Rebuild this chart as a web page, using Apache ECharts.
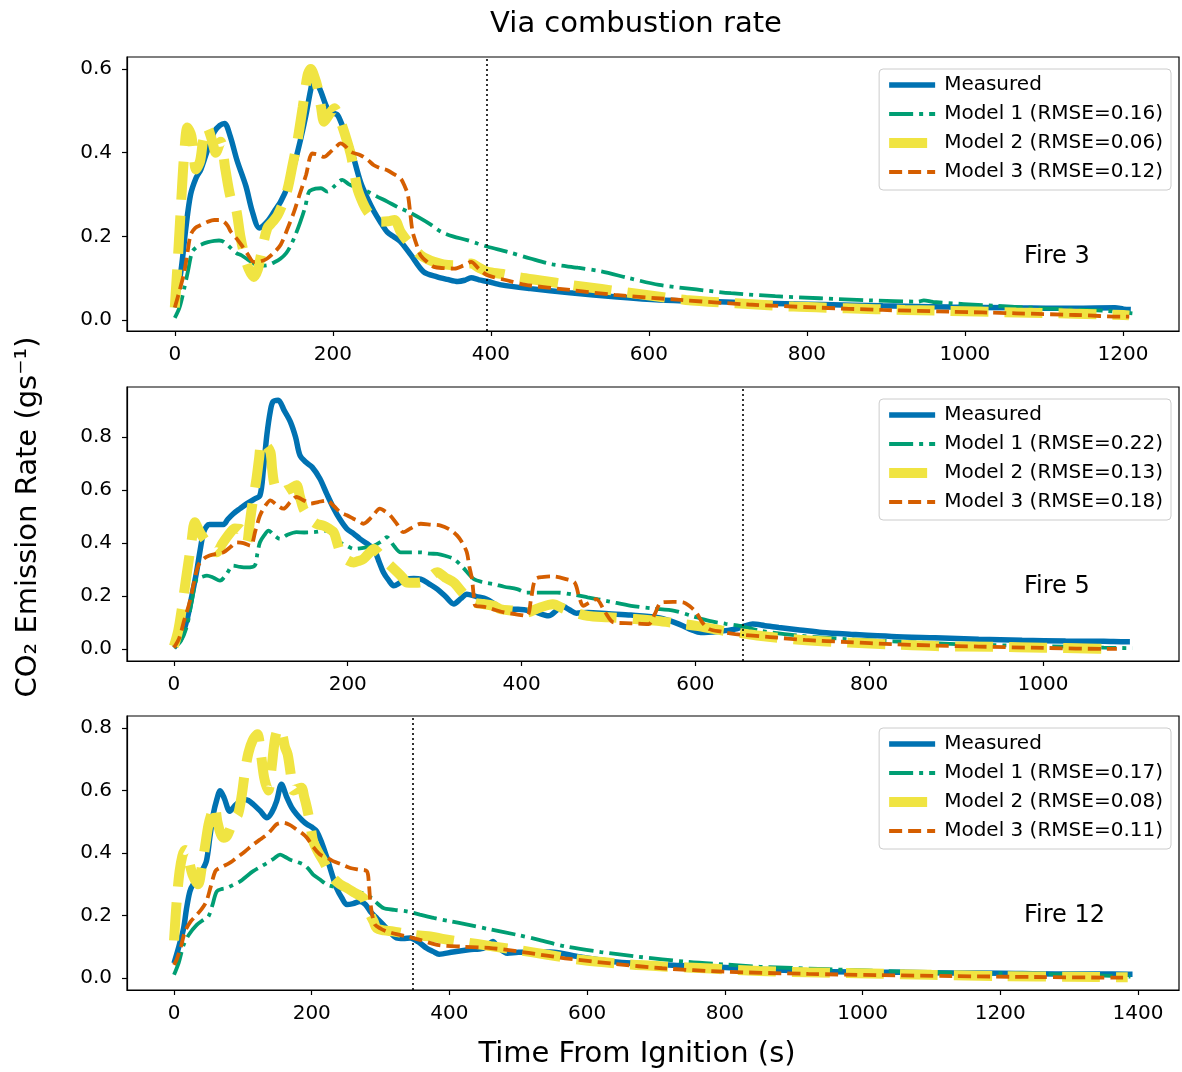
<!DOCTYPE html>
<html>
<head>
<meta charset="utf-8">
<title>Via combustion rate</title>
<script src="https://cdn.jsdelivr.net/npm/echarts@6/dist/echarts.min.js"></script>
<style>
  html, body { margin: 0; padding: 0; background: #fff; }
  #chart { width: 1182px; height: 1072px; }
</style>
</head>
<body>
<div id="chart"></div>
<script>
// ---- data: [time from ignition (s), CO2 emission rate (g/s)] ----
const fire3Measured = [[0,0.03],[8,0.12],[14,0.22],[20,0.30],[27,0.34],[33,0.36],[42,0.41],[50,0.45],[57,0.465],[63,0.47],[70,0.44],[79,0.38],[90,0.32],[98,0.26],[107,0.22],[117,0.235],[126,0.26],[134,0.283],[143,0.32],[151,0.37],[159,0.43],[166,0.49],[172,0.55],[176,0.578],[184,0.55],[193,0.506],[200,0.495],[206,0.49],[215,0.45],[223,0.41],[235,0.33],[244,0.29],[252,0.26],[260,0.235],[269,0.21],[278,0.198],[286,0.187],[299,0.155],[315,0.115],[332,0.103],[345,0.097],[358,0.092],[367,0.095],[375,0.101],[385,0.096],[396,0.092],[413,0.084],[450,0.075],[500,0.065],[560,0.055],[613,0.048],[680,0.044],[749,0.040],[820,0.037],[896,0.034],[980,0.031],[1065,0.029],[1140,0.028],[1190,0.029],[1201,0.026],[1210,0.025]];
const fire3Model1 = [[0,0.005],[6,0.03],[12,0.076],[17,0.12],[22,0.163],[28,0.175],[33,0.18],[42,0.186],[50,0.189],[56,0.19],[62,0.187],[71,0.172],[78,0.16],[84,0.155],[92,0.145],[100,0.135],[108,0.13],[117,0.131],[126,0.138],[134,0.147],[141,0.16],[147,0.179],[153,0.205],[159,0.235],[165,0.27],[170,0.307],[178,0.314],[185,0.315],[193,0.307],[202,0.32],[212,0.335],[220,0.325],[227,0.319],[244,0.307],[256,0.295],[269,0.283],[282,0.27],[295,0.259],[311,0.243],[324,0.228],[337,0.211],[352,0.2],[370,0.191],[383,0.183],[396,0.175],[421,0.163],[450,0.147],[478,0.133],[510,0.125],[540,0.116],[575,0.1],[613,0.084],[660,0.073],[704,0.064],[760,0.057],[816,0.052],[880,0.047],[941,0.044],[948,0.047],[960,0.043],[1037,0.034],[1100,0.028],[1178,0.022],[1212,0.016]];
const fire3Model2 = [[0,0.03],[4,0.15],[8,0.28],[12,0.40],[16,0.46],[21,0.44],[27,0.36],[32,0.38],[36,0.43],[41,0.46],[47,0.43],[52,0.40],[58,0.426],[64,0.36],[71,0.29],[77,0.27],[83,0.2],[88,0.155],[94,0.12],[100,0.103],[105,0.12],[109,0.155],[117,0.219],[124,0.235],[130,0.25],[137,0.28],[143,0.315],[149,0.37],[155,0.426],[162,0.51],[168,0.585],[172,0.60],[177,0.58],[181,0.554],[185,0.51],[189,0.474],[195,0.49],[202,0.506],[206,0.495],[210,0.474],[216,0.44],[223,0.394],[231,0.315],[238,0.28],[244,0.259],[252,0.243],[261,0.235],[270,0.236],[278,0.239],[286,0.21],[295,0.187],[303,0.17],[311,0.155],[320,0.145],[328,0.139],[340,0.133],[354,0.131],[365,0.133],[375,0.135],[385,0.125],[396,0.115],[415,0.11],[433,0.103],[465,0.094],[500,0.084],[540,0.074],[580,0.064],[647,0.048],[710,0.04],[783,0.032],[850,0.028],[924,0.024],[1000,0.021],[1065,0.018],[1140,0.015],[1201,0.012],[1208,0.011]];
const fire3Model3 = [[0,0.03],[6,0.07],[12,0.115],[16,0.16],[20,0.203],[26,0.22],[33,0.227],[42,0.235],[50,0.239],[56,0.239],[62,0.235],[67,0.225],[71,0.211],[78,0.195],[84,0.18],[92,0.158],[100,0.139],[108,0.14],[117,0.147],[126,0.162],[134,0.18],[142,0.215],[151,0.259],[158,0.3],[166,0.346],[174,0.398],[182,0.395],[189,0.39],[196,0.4],[202,0.41],[210,0.422],[216,0.415],[223,0.402],[235,0.394],[244,0.383],[252,0.37],[260,0.363],[269,0.358],[278,0.348],[286,0.338],[291,0.32],[295,0.299],[298,0.255],[301,0.211],[306,0.18],[311,0.155],[320,0.138],[328,0.127],[340,0.124],[354,0.123],[365,0.13],[375,0.139],[385,0.122],[396,0.107],[420,0.095],[444,0.084],[500,0.072],[557,0.06],[640,0.048],[726,0.037],[810,0.03],[896,0.024],[980,0.02],[1065,0.016],[1140,0.012],[1201,0.008],[1208,0.008]];

const fire5Measured = [[0,0.005],[8,0.04],[15,0.11],[20,0.19],[26,0.29],[30,0.37],[34,0.44],[38,0.465],[41,0.47],[50,0.47],[57,0.47],[62,0.49],[68,0.51],[76,0.53],[84,0.549],[92,0.565],[99,0.58],[103,0.68],[107,0.81],[111,0.9],[114,0.934],[120,0.94],[127,0.9],[134,0.858],[140,0.8],[145,0.732],[152,0.705],[159,0.687],[168,0.643],[176,0.585],[184,0.53],[191,0.49],[199,0.454],[207,0.435],[214,0.416],[222,0.398],[230,0.378],[236,0.33],[241,0.29],[247,0.26],[253,0.239],[260,0.25],[268,0.264],[276,0.266],[284,0.264],[294,0.245],[303,0.226],[312,0.2],[322,0.17],[330,0.19],[337,0.207],[348,0.198],[360,0.188],[370,0.168],[380,0.15],[396,0.15],[415,0.14],[431,0.125],[440,0.145],[446,0.163],[455,0.148],[463,0.135],[476,0.138],[500,0.133],[526,0.128],[556,0.119],[572,0.105],[586,0.087],[596,0.072],[606,0.062],[626,0.066],[646,0.075],[656,0.086],[666,0.094],[680,0.088],[696,0.081],[720,0.072],[746,0.062],[780,0.055],[826,0.047],[876,0.042],[926,0.037],[976,0.033],[1026,0.030],[1070,0.029],[1096,0.027],[1100,0.027]];
const fire5Model1 = [[0,0.005],[8,0.03],[15,0.087],[20,0.17],[26,0.264],[32,0.272],[38,0.277],[45,0.27],[53,0.258],[60,0.28],[68,0.315],[76,0.31],[84,0.308],[93,0.315],[96,0.36],[99,0.403],[104,0.43],[109,0.447],[115,0.43],[122,0.416],[130,0.43],[141,0.441],[150,0.44],[161,0.441],[170,0.445],[176,0.447],[184,0.425],[191,0.403],[199,0.39],[207,0.378],[218,0.382],[230,0.39],[238,0.405],[245,0.422],[253,0.39],[261,0.365],[272,0.365],[284,0.365],[295,0.36],[303,0.359],[312,0.352],[322,0.34],[332,0.31],[345,0.264],[356,0.252],[368,0.245],[380,0.235],[395,0.226],[406,0.213],[420,0.213],[441,0.213],[460,0.205],[476,0.195],[500,0.18],[526,0.163],[550,0.153],[576,0.144],[596,0.125],[616,0.106],[635,0.095],[651,0.087],[676,0.068],[720,0.05],[776,0.037],[840,0.027],[900,0.018],[960,0.013],[1026,0.009],[1070,0.005],[1103,0.003]];
const fire5Model2 = [[0,0.01],[5,0.07],[9,0.15],[12,0.22],[15,0.29],[20,0.4],[24,0.479],[27,0.46],[30,0.44],[34,0.42],[38,0.403],[44,0.38],[49,0.365],[56,0.4],[65,0.44],[70,0.455],[76,0.454],[80,0.43],[84,0.403],[87,0.47],[90,0.542],[95,0.643],[98,0.72],[101,0.782],[106,0.77],[111,0.744],[113,0.68],[116,0.618],[121,0.6],[126,0.593],[130,0.6],[134,0.605],[141,0.618],[145,0.575],[149,0.53],[155,0.5],[161,0.479],[166,0.47],[172,0.466],[178,0.455],[184,0.44],[188,0.4],[193,0.353],[200,0.335],[207,0.327],[212,0.332],[218,0.34],[224,0.36],[230,0.378],[236,0.36],[241,0.34],[249,0.315],[257,0.29],[263,0.27],[268,0.251],[276,0.25],[284,0.251],[294,0.27],[303,0.29],[312,0.27],[322,0.251],[333,0.21],[345,0.176],[356,0.17],[368,0.163],[376,0.15],[390,0.145],[406,0.138],[420,0.155],[436,0.169],[450,0.15],[476,0.125],[500,0.12],[530,0.113],[556,0.106],[580,0.096],[601,0.087],[630,0.07],[660,0.056],[676,0.049],[720,0.035],[776,0.024],[826,0.017],[876,0.011],[940,0.008],[1001,0.005],[1050,0.002],[1076,0.0],[1082,0.0]];
const fire5Model3 = [[0,0.005],[6,0.04],[12,0.11],[18,0.176],[23,0.25],[28,0.315],[34,0.34],[41,0.353],[50,0.36],[57,0.365],[65,0.385],[72,0.403],[80,0.4],[88,0.39],[94,0.45],[99,0.504],[105,0.54],[111,0.561],[118,0.545],[126,0.53],[134,0.555],[141,0.574],[150,0.56],[157,0.549],[166,0.555],[176,0.561],[184,0.54],[191,0.517],[199,0.505],[207,0.491],[213,0.482],[218,0.473],[228,0.5],[237,0.53],[243,0.52],[249,0.504],[257,0.47],[264,0.441],[272,0.455],[284,0.473],[295,0.47],[307,0.466],[318,0.45],[326,0.428],[332,0.4],[337,0.365],[340,0.31],[343,0.264],[345,0.2],[347,0.163],[355,0.16],[360,0.157],[370,0.147],[380,0.138],[390,0.133],[406,0.125],[411,0.19],[416,0.264],[426,0.272],[436,0.274],[450,0.265],[461,0.251],[466,0.2],[471,0.163],[478,0.175],[486,0.188],[496,0.14],[506,0.1],[526,0.097],[546,0.094],[553,0.13],[561,0.176],[575,0.178],[586,0.176],[594,0.16],[601,0.138],[608,0.1],[616,0.075],[630,0.065],[646,0.056],[686,0.045],[726,0.034],[776,0.026],[826,0.018],[876,0.013],[926,0.009],[1000,0.004],[1076,0.0],[1085,0.0]];

const fire12Measured = [[0,0.047],[7,0.1],[14,0.16],[18,0.22],[23,0.277],[28,0.3],[33,0.309],[40,0.34],[47,0.374],[52,0.45],[57,0.524],[62,0.57],[67,0.599],[73,0.575],[81,0.534],[90,0.555],[101,0.572],[108,0.568],[115,0.556],[125,0.535],[135,0.513],[142,0.53],[149,0.566],[156,0.62],[164,0.577],[171,0.545],[178,0.524],[186,0.505],[193,0.492],[200,0.483],[207,0.47],[215,0.43],[222,0.385],[229,0.335],[236,0.288],[244,0.255],[251,0.235],[260,0.238],[270,0.245],[278,0.235],[285,0.213],[295,0.19],[304,0.17],[313,0.148],[323,0.128],[333,0.126],[343,0.128],[355,0.115],[367,0.095],[376,0.085],[385,0.076],[405,0.083],[428,0.09],[449,0.095],[456,0.105],[463,0.117],[470,0.1],[484,0.079],[500,0.082],[547,0.083],[590,0.067],[639,0.052],[700,0.043],[780,0.036],[850,0.028],[921,0.022],[990,0.019],[1061,0.018],[1130,0.016],[1202,0.015],[1280,0.013],[1340,0.013],[1385,0.012],[1392,0.012]];
const fire12Model1 = [[0,0.01],[7,0.05],[14,0.106],[22,0.14],[33,0.17],[42,0.185],[50,0.197],[56,0.235],[62,0.277],[70,0.285],[77,0.288],[86,0.298],[96,0.309],[105,0.325],[115,0.342],[125,0.355],[135,0.368],[145,0.382],[154,0.395],[161,0.388],[168,0.379],[178,0.372],[188,0.363],[195,0.35],[202,0.331],[212,0.315],[222,0.299],[236,0.29],[251,0.283],[265,0.276],[280,0.267],[292,0.245],[304,0.224],[320,0.218],[338,0.213],[357,0.203],[377,0.192],[400,0.182],[428,0.17],[460,0.155],[498,0.138],[530,0.122],[568,0.101],[620,0.083],[674,0.068],[744,0.052],[800,0.043],[850,0.036],[950,0.028],[1061,0.02],[1160,0.016],[1272,0.012],[1340,0.008],[1389,0.004]];
const fire12Model2 = [[0,0.12],[4,0.25],[8,0.34],[12,0.39],[16,0.41],[21,0.38],[27,0.33],[35,0.30],[40,0.35],[45,0.42],[50,0.49],[55,0.53],[59,0.55],[63,0.5],[68,0.46],[72,0.449],[77,0.455],[82,0.48],[88,0.51],[93,0.524],[98,0.58],[103,0.66],[108,0.72],[114,0.76],[121,0.78],[126,0.72],[131,0.64],[137,0.6],[142,0.68],[147,0.77],[152,0.8],[157,0.78],[161,0.74],[165,0.716],[169,0.66],[173,0.6],[179,0.605],[185,0.609],[189,0.58],[193,0.545],[198,0.49],[202,0.438],[210,0.4],[217,0.374],[224,0.345],[231,0.32],[241,0.3],[251,0.288],[263,0.272],[275,0.256],[280,0.23],[285,0.202],[290,0.18],[294,0.16],[305,0.152],[318,0.149],[333,0.143],[348,0.138],[360,0.135],[372,0.133],[390,0.125],[420,0.115],[460,0.102],[498,0.09],[540,0.075],[590,0.058],[650,0.045],[710,0.037],[780,0.03],[850,0.022],[920,0.018],[992,0.015],[1100,0.01],[1202,0.006],[1300,0.004],[1380,0.002],[1385,0.002]];
const fire12Model3 = [[0,0.042],[4,0.06],[10,0.1],[16,0.149],[24,0.18],[33,0.202],[40,0.22],[47,0.245],[53,0.29],[60,0.342],[66,0.352],[72,0.358],[82,0.37],[91,0.385],[103,0.405],[115,0.427],[125,0.443],[135,0.459],[142,0.475],[149,0.492],[159,0.497],[168,0.49],[178,0.475],[186,0.463],[193,0.449],[202,0.42],[212,0.395],[222,0.385],[231,0.374],[244,0.363],[256,0.352],[268,0.347],[280,0.342],[283,0.3],[285,0.245],[288,0.2],[292,0.17],[300,0.158],[309,0.149],[323,0.14],[338,0.133],[357,0.122],[382,0.106],[420,0.1],[463,0.095],[515,0.08],[568,0.063],[640,0.045],[709,0.031],[800,0.02],[921,0.013],[1020,0.009],[1131,0.006],[1250,0.003],[1378,0.001],[1385,0.001]];

const fireNames = ["Fire 3", "Fire 5", "Fire 12"];
const rmseFire3 = [0.16, 0.06, 0.12];
const rmseFire5 = [0.22, 0.13, 0.18];
const rmseFire12 = [0.17, 0.08, 0.11];
const cutoffTimes = [395, 655, 346];

const xTicksFire3 = [0, 200, 400, 600, 800, 1000, 1200];
const xTicksFire5 = [0, 200, 400, 600, 800, 1000];
const xTicksFire12 = [0, 200, 400, 600, 800, 1000, 1200, 1400];
const yTicksFire3 = [0, 0.2, 0.4, 0.6];
const yTicksFire5 = [0, 0.2, 0.4, 0.6, 0.8];
const yTicksFire12 = [0, 0.2, 0.4, 0.6, 0.8];

// ---- layout / styles ----
const FONT = "DejaVu Sans";
const lineStyles = [
  { color: "#0072B2", width: 5.5, type: "solid" },
  { color: "#009E73", width: 3.8, type: [24, 6, 4, 6] },
  { color: "#F0E442", width: 10, type: [38, 16] },
  { color: "#D55E00", width: 3.8, type: [13, 6] },
];

const panels = [
  { series: [fire3Measured, fire3Model1, fire3Model2, fire3Model3], rmse: rmseFire3,
    xTicks: xTicksFire3, yTicks: yTicksFire3, xMin: -60.5, xMax: 1271, yMin: -0.0263, yMax: 0.6287, top: 57 },
  { series: [fire5Measured, fire5Model1, fire5Model2, fire5Model3], rmse: rmseFire5,
    xTicks: xTicksFire5, yTicks: yTicksFire5, xMin: -54, xMax: 1156.5, yMin: -0.0455, yMax: 0.9896, top: 387 },
  { series: [fire12Measured, fire12Model1, fire12Model2, fire12Model3], rmse: rmseFire12,
    xTicks: xTicksFire12, yTicks: yTicksFire12, xMin: -68.3, xMax: 1459.5, yMin: -0.0386, yMax: 0.8386, top: 716 },
];
const PLOT_H = 274;

function seriesNames(rmse) {
  return ["Measured"].concat(rmse.map((r, k) => "Model " + (k + 1) + " (RMSE=" + r.toFixed(2) + ")"));
}

const chart = echarts.init(document.getElementById("chart"), null, { renderer: "canvas" });

const grids = [], xAxes = [], yAxes = [], legends = [], series = [], texts = [];

panels.forEach((p, i) => {
  grids.push({
    left: 127, top: p.top, width: 1052, height: PLOT_H,
    show: true, borderColor: "#000", borderWidth: 1.2,
    containLabel: false, outerBoundsMode: "none",
  });
  xAxes.push({
    type: "value", gridIndex: i, min: p.xMin, max: p.xMax,
    axisLine: { show: true, onZero: false, lineStyle: { color: "#000", width: 1.2 } },
    splitLine: { show: false },
    axisTick: { show: true, length: 5, customValues: p.xTicks, lineStyle: { color: "#000", width: 1.2 } },
    axisLabel: { customValues: p.xTicks, margin: 14, color: "#000", fontSize: 20, fontFamily: FONT,
                 formatter: (v) => String(v) },
  });
  yAxes.push({
    type: "value", gridIndex: i, min: p.yMin, max: p.yMax,
    axisLine: { show: true, onZero: false, lineStyle: { color: "#000", width: 1.2 } },
    splitLine: { show: false },
    axisTick: { show: true, length: 5, customValues: p.yTicks, lineStyle: { color: "#000", width: 1.2 } },
    axisLabel: { customValues: p.yTicks, margin: 15, color: "#000", fontSize: 20, fontFamily: FONT,
                 formatter: (v) => v.toFixed(1) },
  });

  const names = seriesNames(p.rmse);
  p.series.forEach((data, k) => {
    const s = {
      type: "line", name: names[k], xAxisIndex: i, yAxisIndex: i,
      data: data, symbol: "none", showSymbol: false, smooth: 0.3,
      lineStyle: lineStyles[k], itemStyle: { color: lineStyles[k].color },
      z: 2 + k, emphasis: { disabled: true }, silent: true,
    };
    if (k === 0) {
      s.markLine = {
        silent: true, symbol: ["none", "none"], label: { show: false },
        lineStyle: { color: "#000", type: [2, 3], width: 1.6 },
        emphasis: { disabled: true },
        data: [{ xAxis: cutoffTimes[i] }],
      };
    }
    series.push(s);
  });

  legends.push({
    orient: "vertical", right: 11, top: p.top + 12, data: names,
    itemWidth: 46, itemHeight: 12, itemGap: 9,
    padding: [6, 8, 8, 5],
    borderColor: "#cccccc", borderWidth: 1, borderRadius: 4,
    backgroundColor: "rgba(255,255,255,0.8)",
    selectedMode: false,
    itemStyle: { opacity: 0 },
    lineStyle: { width: "inherit" },
    textStyle: { fontFamily: FONT, fontSize: 20, color: "#000", lineHeight: 20, padding: [0, 0, 0, 4] },
  });

  texts.push({
    type: "text", x: 1024, y: p.top + 200,
    style: { text: fireNames[i], fontSize: 24, fontFamily: FONT, fill: "#000", align: "left", verticalAlign: "middle" },
  });
});

texts.push(
  { type: "text", x: 636, y: 24,
    style: { text: "Via combustion rate", fontSize: 29, fontFamily: FONT, fill: "#000", align: "center", verticalAlign: "middle" } },
  { type: "text", x: 637, y: 1054,
    style: { text: "Time From Ignition (s)", fontSize: 29, fontFamily: FONT, fill: "#000", align: "center", verticalAlign: "middle" } },
  { type: "text", x: 28, y: 517, rotation: Math.PI / 2,
    style: { text: "CO\u2082 Emission Rate (gs\u207B\u00B9)", fontSize: 29, fontFamily: FONT, fill: "#000", align: "center", verticalAlign: "middle" } }
);

const option = {
  animation: false,
  backgroundColor: "#fff",
  textStyle: { fontFamily: FONT },
  grid: grids,
  xAxis: xAxes,
  yAxis: yAxes,
  legend: legends,
  tooltip: { show: false },
  graphic: texts,
  series: series,
};

chart.setOption(option);
</script>
</body>
</html>
